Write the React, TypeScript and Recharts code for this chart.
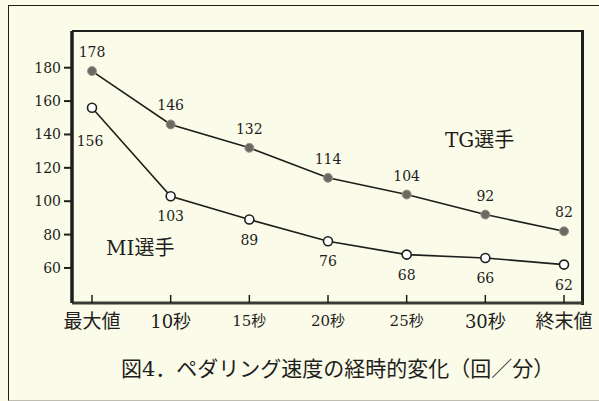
import React from 'react';
import { LineChart, Line, XAxis, YAxis, LabelList } from 'recharts';

const categories = ['最大値', '10秒', '15秒', '20秒', '25秒', '30秒', '終末値'];
const tgValues = [178, 146, 132, 114, 104, 92, 82];
const miValues = [156, 103, 89, 76, 68, 66, 62];
const yTicks = [60, 80, 100, 120, 140, 160, 180];
const seriesNames = ['TG選手', 'MI選手'];
const caption = '図4．ペダリング速度の経時的変化（回／分）';

const data = categories.map((c, i) => ({ cat: c, tg: tgValues[i], mi: miValues[i] }));

const INK = '#1e1e1c';
const BG = '#fbfbe9';
const SERIF = "'DejaVu Serif', 'Noto Sans CJK JP', serif";

const XTick = (props: any) => {
  const { x, y, payload } = props;
  const v = String(payload.value);
  const fs = v === '最大値' || v === '終末値' ? 19 : v === '10秒' || v === '30秒' ? 18 : 15;
  return (
    <g>
      <line x1={x} x2={x} y1={y} y2={y - 8} stroke={INK} strokeWidth={1.5} />
      <text x={x} y={y + 18} textAnchor="middle" dominantBaseline="central" fontSize={fs} fill={INK} fontFamily={SERIF}>
        {v}
      </text>
    </g>
  );
};

const TopLabel = (p: any) => (
  <text x={p.x} y={p.y - 19} textAnchor="middle" dominantBaseline="central" fontSize={14} fill={INK} fontFamily={SERIF}>
    {p.value}
  </text>
);

const BottomLabel = (p: any) => {
  const first = p.index === 0;
  return (
    <text x={p.x - (first ? 2 : 0)} y={p.y + (first ? 33 : 20)} textAnchor="middle" dominantBaseline="central" fontSize={14} fill={INK} fontFamily={SERIF}>
      {p.value}
    </text>
  );
};

export default function App() {
  return (
    <div style={{ position: 'absolute', left: 0, top: 0, width: 599, height: 401, background: BG, overflow: 'hidden' }}>
      <div style={{ position: 'absolute', left: 8, top: 5, width: 620, height: 394, borderLeft: `1.5px solid ${INK}`, borderTop: `1.5px solid ${INK}`, borderBottom: '1px solid #bdbdb0' }} />
      <div style={{ position: 'absolute', left: 72, top: 30, width: 509, height: 273, borderTop: `2px solid ${INK}`, borderRight: `3px solid ${INK}` }} />
      <div style={{ position: 'absolute', left: 0, top: 0 }}>
        <LineChart width={599} height={401} data={data} margin={{ top: 31, right: 16, left: 0, bottom: 68 }}>
          <XAxis
            dataKey="cat"
            interval={0}
            padding={{ left: 20, right: 19 }}
            axisLine={{ stroke: '#3a3a36', strokeWidth: 3 }}
            tickLine={false}
            tickSize={0}
            tickMargin={0}
            height={30}
            tick={<XTick />}
          />
          <YAxis
            type="number"
            domain={[39, 202]}
            ticks={yTicks}
            interval={0}
            width={72}
            axisLine={{ stroke: INK, strokeWidth: 3.5 }}
            tickLine={{ stroke: INK, strokeWidth: 2 }}
            tickSize={8}
            tickMargin={3}
            tick={{ fontSize: 14, fill: INK, fontFamily: SERIF }}
          />
          <Line
            dataKey="tg"
            stroke={INK}
            strokeWidth={1.6}
            isAnimationActive={false}
            dot={{ r: 4.5, fill: '#6a6a62', stroke: '#9a9a90', strokeWidth: 1 }}
          >
            <LabelList dataKey="tg" content={TopLabel} />
          </Line>
          <Line
            dataKey="mi"
            stroke={INK}
            strokeWidth={1.6}
            isAnimationActive={false}
            dot={{ r: 4.5, fill: '#ffffff', stroke: INK, strokeWidth: 1.6 }}
          >
            <LabelList dataKey="mi" content={BottomLabel} />
          </Line>
        </LineChart>
      </div>
      <div style={{ position: 'absolute', left: 445, top: 128, fontSize: 20, fontFamily: SERIF, color: INK, whiteSpace: 'nowrap', lineHeight: '24px' }}>
        {seriesNames[0]}
      </div>
      <div style={{ position: 'absolute', left: 106, top: 236, fontSize: 20, fontFamily: SERIF, color: INK, whiteSpace: 'nowrap', lineHeight: '24px' }}>
        {seriesNames[1]}
      </div>
      <div style={{ position: 'absolute', left: 121, top: 356, fontSize: 21, fontFamily: SERIF, color: INK, whiteSpace: 'nowrap', lineHeight: '26px' }}>
        {caption}
      </div>
    </div>
  );
}
